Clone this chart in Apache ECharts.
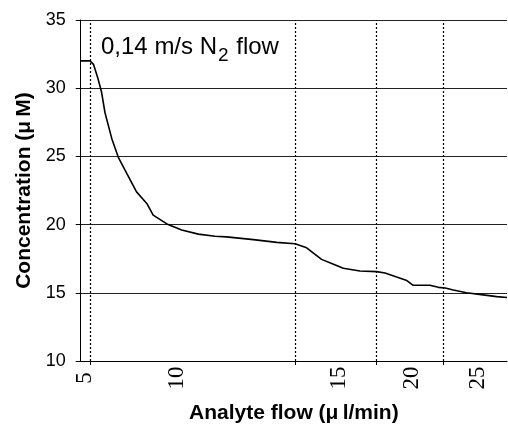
<!DOCTYPE html>
<html>
<head>
<meta charset="utf-8">
<script src="https://cdn.jsdelivr.net/npm/echarts@6/dist/echarts.min.js"></script>
<style>
  html, body { margin: 0; padding: 0; background: #fff; }
  #chart { width: 508px; height: 429px; }
</style>
</head>
<body>
<div id="chart"></div>
<script>
// run position along the recording (arbitrary units, 0..100) and measured concentration
const runPos = [0, 2.2, 3.0, 4.1, 4.9, 5.7, 7.3, 8.8, 10.8, 13.1, 15.5, 17.0, 20.5, 23.7, 27.6, 31.5,
  34.2, 40.5, 46.0, 50.3, 53.0, 56.5, 59.3, 61.6, 65.5, 69.4, 71.4, 74.1, 76.5, 78.0, 81.9, 83.9,
  85.5, 87.4, 90.5, 94.4, 97.6, 100]
const conc = [32.0, 32.0, 31.75, 30.65, 29.7, 28.2, 26.3, 24.95, 23.75, 22.4, 21.55, 20.7, 20.0, 19.6, 19.3, 19.15,
  19.1, 18.9, 18.7, 18.6, 18.3, 17.45, 17.1, 16.8, 16.6, 16.55, 16.45, 16.15, 15.9, 15.55, 15.55, 15.4,
  15.35, 15.2, 15.0, 14.85, 14.72, 14.65]

// analyte flow labels and where they sit on the run axis
const flowLabels = ['5', '10', '15', '20', '25']
const flowLabelPos = [1.0, 22.5, 60.6, 77.8, 93.1]
// flow step markers (dotted lines)
const stepPos = [2.2, 50.3, 69.3, 85.0]

const chart = echarts.init(document.getElementById('chart'))

chart.setOption({
  animation: false,
  grid: {
    left: 80.7,
    right: 1,
    top: 20,
    bottom: 65
  },
  xAxis: {
    type: 'value',
    min: 0,
    max: 100,
    name: 'Analyte flow (\u03bc\u2009l/min)',
    nameLocation: 'middle',
    nameGap: 42,
    nameTextStyle: {
      fontFamily: 'Liberation Sans',
      fontWeight: 'bold',
      fontSize: 21,
      color: '#000'
    },
    axisLine: { lineStyle: { color: '#000', width: 1 } },
    axisTick: {
      show: true,
      customValues: stepPos,
      length: 4,
      lineStyle: { color: '#000' }
    },
    axisLabel: {
      customValues: flowLabelPos,
      rotate: 90,
      margin: 17,
      align: 'center',
      verticalAlign: 'middle',
      fontFamily: 'Liberation Serif',
      fontSize: 23,
      color: '#000',
      formatter: function (v) {
        const i = flowLabelPos.indexOf(v)
        return i >= 0 ? flowLabels[i] : ''
      }
    },
    splitLine: { show: false }
  },
  yAxis: {
    type: 'value',
    min: 10,
    max: 35,
    interval: 5,
    name: 'Concentration (\u03bc\u2009M)',
    nameLocation: 'middle',
    nameGap: 46,
    nameTextStyle: {
      fontFamily: 'Liberation Sans',
      fontWeight: 'bold',
      fontSize: 21,
      color: '#000'
    },
    axisLine: { show: true, lineStyle: { color: '#000', width: 1 } },
    axisTick: { show: true, length: 5, lineStyle: { color: '#000' } },
    axisLabel: {
      margin: 15,
      fontFamily: 'Liberation Sans',
      fontSize: 18,
      color: '#000'
    },
    splitLine: { show: true, lineStyle: { color: '#222', width: 1 } }
  },
  series: [
    {
      type: 'line',
      data: runPos.map((x, i) => [x, conc[i]]),
      showSymbol: false,
      lineStyle: { color: '#000', width: 1.6 },
      markLine: {
        silent: true,
        symbol: ['none', 'none'],
        label: { show: false },
        lineStyle: { color: '#000', type: [2, 2], width: 1.2 },
        data: stepPos.map(x => ({ xAxis: x }))
      },
      z: 3
    }
  ],
  graphic: [
    {
      type: 'text',
      left: 101,
      top: 35,
      style: {
        text: '{m|0,14 m/s N}{s|2}{m| flow}',
        rich: {
          m: {
            fontFamily: 'Liberation Sans',
            fontSize: 24,
            lineHeight: 24,
            verticalAlign: 'top',
            fill: '#000'
          },
          s: {
            fontFamily: 'Liberation Sans',
            fontSize: 19,
            lineHeight: 19,
            padding: [11, 1, 0, 1],
            verticalAlign: 'top',
            fill: '#000'
          }
        }
      }
    }
  ]
})
</script>
</body>
</html>
